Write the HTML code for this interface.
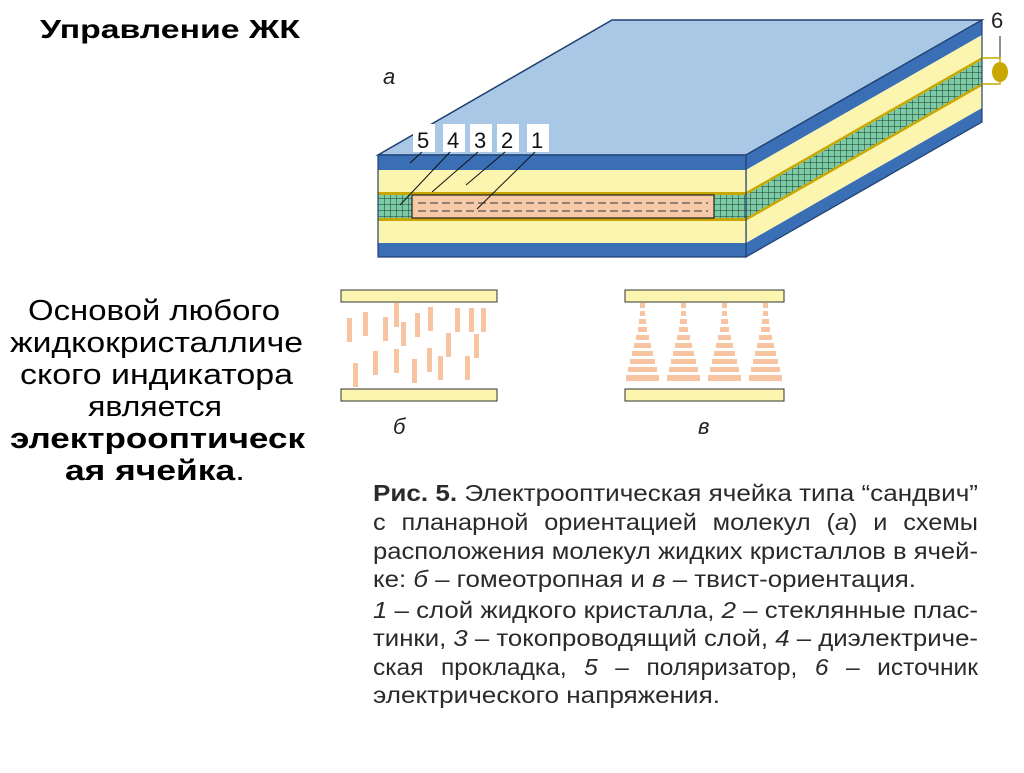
<!DOCTYPE html>
<html><head><meta charset="utf-8"><style>
body{margin:0;background:#fff;width:1024px;height:768px;overflow:hidden}
</style></head><body>
<svg width="1024" height="768" xmlns="http://www.w3.org/2000/svg" font-family="Liberation Sans, sans-serif">
<defs>
<pattern id="g" width="6" height="6" patternUnits="userSpaceOnUse">
<rect width="6" height="6" fill="#7ccaa6"/><path d="M0 0H6M0 0V6" stroke="#1a3a2a" stroke-width="1"/>
</pattern>
</defs>
<text x="40" y="38" font-size="26" font-weight="bold" fill="#000" textLength="260" lengthAdjust="spacingAndGlyphs">Управление ЖК</text>
<g font-size="29" fill="#000">
<text x="28" y="320" textLength="252" lengthAdjust="spacingAndGlyphs">Основой любого</text>
<text x="10" y="352" textLength="293" lengthAdjust="spacingAndGlyphs">жидкокристалличе</text>
<text x="20" y="384" textLength="273" lengthAdjust="spacingAndGlyphs">ского индикатора</text>
<text x="88" y="416" textLength="134" lengthAdjust="spacingAndGlyphs">является</text>
<text x="10" y="448" font-weight="bold" textLength="295" lengthAdjust="spacingAndGlyphs">электрооптическ</text>
<text x="65" y="480" textLength="180" lengthAdjust="spacingAndGlyphs"><tspan font-weight="bold">ая ячейка</tspan>.</text>
</g>
<text x="383" y="84" font-size="22" font-style="italic" fill="#222">а</text>
<polygon points="378,155 746,155 982,20 612,20" fill="#a8c8e6" stroke="#1f3f70" stroke-width="1.5"/>
<polygon points="746,155 982,20 982,35 746,170" fill="#3a6fb5"/>
<polygon points="746,170 982,35 982,57 746,192" fill="#fbf5b0"/>
<polygon points="746,192 982,57 982,60 746,195" fill="#c8a800"/>
<polygon points="746,195 982,60 982,83 746,218" fill="url(#g)"/>
<polygon points="746,218 982,83 982,86 746,221" fill="#c8a800"/>
<polygon points="746,221 982,86 982,108 746,243" fill="#fbf5b0"/>
<polygon points="746,243 982,108 982,122 746,257" fill="#3a6fb5"/>
<polygon points="746,155 982,20 982,122 746,257" fill="none" stroke="#1f3f70" stroke-width="1.2"/>
<rect x="378" y="155" width="368" height="15" fill="#3a6fb5"/>
<rect x="378" y="170" width="368" height="22" fill="#fbf5b0"/>
<rect x="378" y="192" width="368" height="3" fill="#c8a800"/>
<rect x="378" y="195" width="368" height="23" fill="url(#g)"/>
<rect x="378" y="218" width="368" height="3" fill="#c8a800"/>
<rect x="378" y="221" width="368" height="22" fill="#fbf5b0"/>
<rect x="378" y="243" width="368" height="14" fill="#3a6fb5"/>
<rect x="378" y="155" width="368" height="102" fill="none" stroke="#1f3f70" stroke-width="1.2"/>
<rect x="412" y="195" width="302" height="23" fill="#f6c9a8" stroke="#222" stroke-width="1.2"/>
<path d="M418 203H708M418 211H708" stroke="#333" stroke-width="1" stroke-dasharray="8,4"/>
<g font-size="22" fill="#111">
<rect x="413" y="124" width="22" height="28" fill="#fff"/><text x="417" y="148">5</text>
<rect x="443" y="124" width="22" height="28" fill="#fff"/><text x="447" y="148">4</text>
<rect x="470" y="124" width="22" height="28" fill="#fff"/><text x="474" y="148">3</text>
<rect x="497" y="124" width="22" height="28" fill="#fff"/><text x="501" y="148">2</text>
<rect x="527" y="124" width="22" height="28" fill="#fff"/><text x="531" y="148">1</text>
</g>
<g stroke="#111" stroke-width="1">
<line x1="422" y1="152" x2="410" y2="163"/>
<line x1="450" y1="152" x2="400" y2="205"/>
<line x1="478" y1="152" x2="432" y2="192"/>
<line x1="505" y1="152" x2="466" y2="185"/>
<line x1="535" y1="152" x2="477" y2="209"/>
</g>
<text x="991" y="28" font-size="22" fill="#222">6</text>
<line x1="1000" y1="36" x2="1000" y2="60" stroke="#222" stroke-width="1"/>
<path d="M982 58H1000V84H982" fill="none" stroke="#c8a800" stroke-width="1.5"/>
<ellipse cx="1000" cy="72" rx="8" ry="10" fill="#c8a800"/>
<rect x="341" y="290" width="156" height="12" fill="#fbf5b0" stroke="#333"/>
<rect x="341" y="389" width="156" height="12" fill="#fbf5b0" stroke="#333"/>
<g fill="#f6c4a0">
<rect x="347" y="318" width="5" height="24"/><rect x="363" y="312" width="5" height="24"/>
<rect x="383" y="317" width="5" height="24"/><rect x="394" y="303" width="5" height="24"/>
<rect x="401" y="322" width="5" height="24"/><rect x="415" y="313" width="5" height="24"/>
<rect x="428" y="307" width="5" height="24"/><rect x="455" y="308" width="5" height="24"/>
<rect x="469" y="308" width="5" height="24"/><rect x="481" y="308" width="5" height="24"/>
<rect x="446" y="333" width="5" height="24"/><rect x="474" y="334" width="5" height="24"/>
<rect x="353" y="363" width="5" height="24"/><rect x="373" y="351" width="5" height="24"/>
<rect x="394" y="349" width="5" height="24"/><rect x="412" y="359" width="5" height="24"/>
<rect x="427" y="348" width="5" height="24"/><rect x="438" y="356" width="5" height="24"/>
<rect x="465" y="356" width="5" height="24"/>
</g>
<text x="393" y="434" font-size="22" font-style="italic" fill="#222">б</text>
<rect x="625" y="290" width="159" height="12" fill="#fbf5b0" stroke="#333"/>
<rect x="625" y="389" width="159" height="12" fill="#fbf5b0" stroke="#333"/>
<g fill="#f6c4a0" id="stk">
<rect x="640" y="303" width="5" height="5"/><rect x="640" y="311" width="5" height="5"/>
<rect x="639" y="319" width="7" height="5"/><rect x="638" y="327" width="9" height="5"/>
<rect x="636" y="335" width="13" height="5"/><rect x="634" y="343" width="17" height="5"/>
<rect x="632" y="351" width="21" height="5"/><rect x="630" y="359" width="25" height="5"/>
<rect x="628" y="367" width="29" height="5"/><rect x="626" y="375" width="33" height="6"/>
</g>
<use href="#stk" x="41"/><use href="#stk" x="82"/><use href="#stk" x="123"/>
<text x="698" y="434" font-size="22" font-style="italic" fill="#222">в</text>
<g font-size="23" fill="#2a2a2a">
<text x="373" y="501" textLength="605" lengthAdjust="spacingAndGlyphs"><tspan font-weight="bold">Рис. 5.</tspan> Электрооптическая ячейка типа “сандвич”</text>
<text x="373" y="530" textLength="605" lengthAdjust="spacingAndGlyphs" word-spacing="8">с планарной ориентацией молекул (<tspan font-style="italic">а</tspan>) и схемы</text>
<text x="373" y="559" textLength="605" lengthAdjust="spacingAndGlyphs">расположения молекул жидких кристаллов в ячей-</text>
<text x="373" y="587" textLength="543" lengthAdjust="spacingAndGlyphs">ке: <tspan font-style="italic">б</tspan> – гомеотропная и <tspan font-style="italic">в</tspan> – твист-ориентация.</text>
<text x="373" y="618" textLength="605" lengthAdjust="spacingAndGlyphs"><tspan font-style="italic">1</tspan> – слой жидкого кристалла, <tspan font-style="italic">2</tspan> – стеклянные плас-</text>
<text x="373" y="646" textLength="605" lengthAdjust="spacingAndGlyphs">тинки, <tspan font-style="italic">3</tspan> – токопроводящий слой, <tspan font-style="italic">4</tspan> – диэлектриче-</text>
<text x="373" y="675" textLength="605" lengthAdjust="spacingAndGlyphs" word-spacing="10">ская прокладка, <tspan font-style="italic">5</tspan> – поляризатор, <tspan font-style="italic">6</tspan> – источник</text>
<text x="373" y="703" textLength="347" lengthAdjust="spacingAndGlyphs">электрического напряжения.</text>
</g>
</svg>
</body></html>
